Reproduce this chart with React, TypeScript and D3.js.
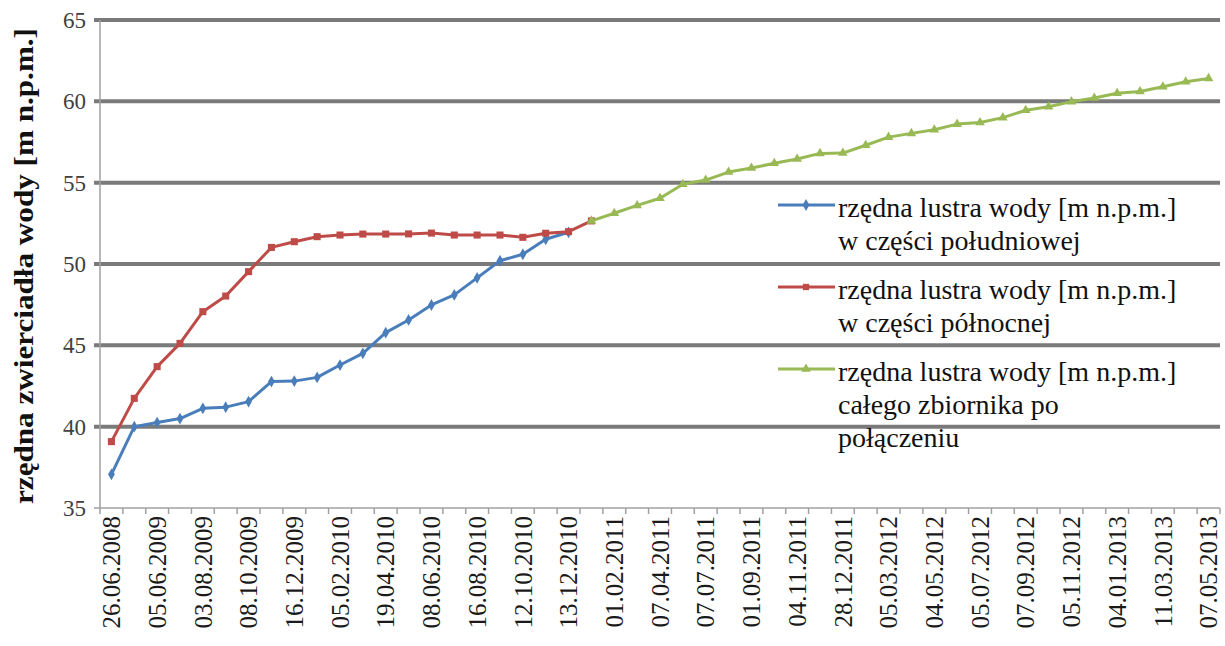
import React from "react";
import * as d3 from "d3";

const xLabels = [
  "26.06.2008", "05.06.2009", "03.08.2009", "08.10.2009", "16.12.2009",
  "05.02.2010", "19.04.2010", "08.06.2010", "16.08.2010", "12.10.2010",
  "13.12.2010", "01.02.2011", "07.04.2011", "07.07.2011", "01.09.2011",
  "04.11.2011", "28.12.2011", "05.03.2012", "04.05.2012", "05.07.2012",
  "07.09.2012", "05.11.2012", "04.01.2013", "11.03.2013", "07.05.2013",
];
const categoryCount = 49;

const south: number[] = [
  37.07, 40.0, 40.25, 40.5, 41.13, 41.2, 41.54, 42.77, 42.8, 43.03,
  43.79, 44.51, 45.78, 46.56, 47.48, 48.1, 49.15, 50.2, 50.6, 51.52, 51.95,
];
const north: number[] = [
  39.08, 41.74, 43.69, 45.12, 47.07, 48.03, 49.53, 51.02, 51.37, 51.68,
  51.78, 51.84, 51.84, 51.85, 51.9, 51.78, 51.78, 51.78, 51.64, 51.89, 51.99, 52.65,
];
const wholeStart = 21;
const whole: number[] = [
  52.65, 53.12, 53.6, 54.04, 54.9, 55.16, 55.65, 55.9, 56.19, 56.45,
  56.8, 56.82, 57.3, 57.8, 58.03, 58.25, 58.6, 58.7, 59.0, 59.45,
  59.67, 59.98, 60.2, 60.5, 60.6, 60.9, 61.2, 61.41,
];
const yTicks = [35, 40, 45, 50, 55, 60, 65];

const legendItems = [
  { color: "#4A7EBB", marker: "diamond", lines: ["rzędna lustra wody [m n.p.m.]", "w części południowej"] },
  { color: "#BE4B48", marker: "square", lines: ["rzędna lustra wody [m n.p.m.]", "w części północnej"] },
  { color: "#98B954", marker: "triangle", lines: ["rzędna lustra wody [m n.p.m.]", "całego zbiornika po", "połączeniu"] },
];

const W = 1225, H = 646;
const left = 100, right = 1220, top = 20, bottom = 508;
const serif = "Liberation Serif";

function markerPath(kind: string, size: number) {
  const sym = kind === "diamond" ? d3.symbolDiamond : kind === "square" ? d3.symbolSquare : d3.symbolTriangle;
  return d3.symbol().type(sym).size(size)() as string;
}

export default function App() {
  const x = d3.scaleBand<number>().domain(d3.range(categoryCount)).range([left, right]).padding(0);
  const bw = x.bandwidth();
  const cx = (i: number) => (x(i) as number) + bw / 2;
  const y = d3.scaleLinear().domain([35, 65]).range([bottom, top]);

  const line = d3.line<[number, number]>().x((d) => cx(d[0])).y((d) => y(d[1]));
  const sPts: [number, number][] = south.map((v, i) => [i, v]);
  const nPts: [number, number][] = north.map((v, i) => [i, v]);
  const wPts: [number, number][] = whole.map((v, i) => [i + wholeStart, v]);

  const series = [
    { pts: sPts, color: "#4A7EBB", marker: "diamond", size: 40 },
    { pts: nPts, color: "#BE4B48", marker: "square", size: 50 },
    { pts: wPts, color: "#98B954", marker: "triangle", size: 40 },
  ];

  const txt = { fontFamily: serif } as React.CSSProperties;

  return (
    <svg width={W} height={H} style={{ position: "absolute", left: 0, top: 0, background: "#fff" }}>
      <rect width={W} height={H} fill="#fff" />
      {yTicks.filter((t) => t > 35).map((t) => (
        <line key={t} x1={left - 6} x2={right} y1={y(t)} y2={y(t)} stroke="#7a7a7a" strokeWidth={4} />
      ))}
      <line x1={left} x2={left} y1={top} y2={bottom} stroke="#a0a0a0" strokeWidth={1.5} />
      <line x1={left - 6} x2={right} y1={bottom} y2={bottom} stroke="#a0a0a0" strokeWidth={1.5} />
      {d3.range(categoryCount + 1).map((i) => (
        <line key={i} x1={left + i * bw} x2={left + i * bw} y1={bottom} y2={bottom + 6} stroke="#a0a0a0" strokeWidth={1.5} />
      ))}
      {yTicks.map((t) => (
        <text key={t} x={86} y={y(t)} dy="0.35em" textAnchor="end" style={txt} fontSize={23} fill="#404040">
          {t}
        </text>
      ))}
      {xLabels.map((lab, k) => (
        <text
          key={lab}
          transform={`translate(${cx(k * 2)},${bottom + 8}) rotate(-90)`}
          dy="0.35em"
          textAnchor="end"
          style={txt}
          fontSize={25}
          fill="#1a1a1a"
        >
          {lab}
        </text>
      ))}
      <text
        transform={`translate(24,266) rotate(-90)`}
        dy="0.35em"
        textAnchor="middle"
        style={txt}
        fontSize={27}
        fontWeight="bold"
        fill="#111"
        textLength={476}
        lengthAdjust="spacingAndGlyphs"
      >
        rzędna zwierciadła wody [m n.p.m.]
      </text>
      {series.map((s, k) => (
        <g key={k}>
          <path d={line(s.pts) as string} fill="none" stroke={s.color} strokeWidth={3} strokeLinejoin="round" />
          {s.pts.map((p) => (
            <path key={p[0]} d={markerPath(s.marker, s.size)} transform={`translate(${cx(p[0])},${y(p[1])})`} fill={s.color} />
          ))}
        </g>
      ))}
      {legendItems.map((it, k) => {
        const ly = 205 + k * 82;
        return (
          <g key={k}>
            <line x1={778} x2={835} y1={ly} y2={ly} stroke={it.color} strokeWidth={3} />
            <path d={markerPath(it.marker, 40)} transform={`translate(806,${ly})`} fill={it.color} />
            {it.lines.map((t, j) => (
              <text key={j} x={838} y={ly + 2 + j * 33} dy="0.35em" style={txt} fontSize={28} fill="#111">
                {t}
              </text>
            ))}
          </g>
        );
      })}
    </svg>
  );
}
